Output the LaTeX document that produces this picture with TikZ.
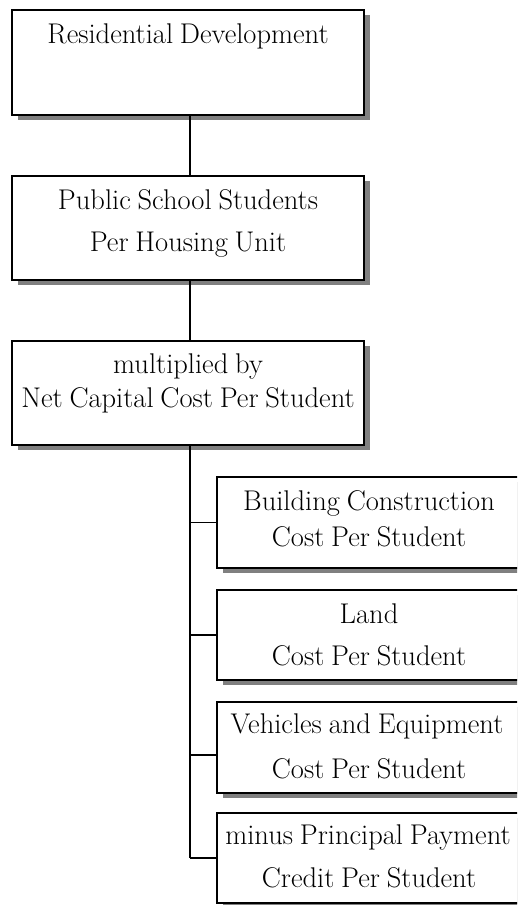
\documentclass[tikz,border=0pt]{standalone}
\usepackage{fontspec}
\usetikzlibrary{shadows}
\definecolor{shadowgray}{RGB}{128,128,128}
\newcommand{\boxfont}{\fontsize{28.5}{34}\selectfont\spaceskip=0.24em plus 0.1em minus 0.05em\relax}
\begin{document}
\begin{tikzpicture}[x=1pt,y=-1pt,
  box/.style={rectangle, draw=black, line width=1.6pt, fill=white, inner sep=0pt,
    drop shadow={shadow xshift=6pt, shadow yshift=-5pt, fill=shadowgray, opacity=1}},
  mainbox/.style={box, minimum width=352pt},
  subbox/.style={box, minimum width=304pt},
  lbl/.style={anchor=base, inner sep=0pt, font=\boxfont},
  conn/.style={draw=black, line width=1.5pt}]
\useasboundingbox (0,0) rectangle (517,905);
\clip (0,0) rectangle (517,905);

% main chain
\node[mainbox, minimum height=105pt] (b1) at (188,62.5) {};
\node[mainbox, minimum height=104pt] (b2) at (188,228) {};
\node[mainbox, minimum height=104pt] (b3) at (188,393) {};

% cost components
\node[subbox, minimum height=91pt] (cA) at (369,522.5) {};
\node[subbox, minimum height=90pt] (cB) at (369,635) {};
\node[subbox, minimum height=91pt] (cC) at (369,747.5) {};
\node[subbox, minimum height=90pt] (cD) at (369,858) {};

% labels
\node[lbl] (t1) at (188,43) {Residential Development};
\node[lbl] (t2a) at (188,209) {Public School Students};
\node[lbl] (t2b) at (188,251.5) {Per Housing Unit};
\node[lbl] (t3a) at (188,373) {multiplied by};
\node[lbl] (t3b) at (188,407) {Net Capital Cost Per Student};
\node[lbl] (tAa) at (369,510.5) {Building Construction};
\node[lbl] (tAb) at (369,546.5) {Cost Per Student};
\node[lbl] (tBa) at (369,623) {Land};
\node[lbl] (tBb) at (369,665.5) {Cost Per Student};
\node[lbl] (tCa) at (367,733) {Vehicles and Equipment};
\node[lbl] (tCb) at (369,778.5) {Cost Per Student};
\node[lbl] (tDa) at (368,844) {minus Principal Payment};
\node[lbl] (tDb) at (369,887.5) {Credit Per Student};

% connectors
\coordinate (tend) at (190,858);
\draw[conn] ([xshift=2pt]b1.south) -- ([xshift=2pt]b2.north);
\draw[conn] ([xshift=2pt]b2.south) -- ([xshift=2pt]b3.north);
\draw[conn] ([xshift=2pt]b3.south) -- (tend);
\draw[conn] (cA.west -| tend) -- (cA.west);
\draw[conn] (cB.west -| tend) -- (cB.west);
\draw[conn] ([yshift=-7.5pt]cC.west -| tend) -- ([yshift=-7.5pt]cC.west);
\draw[conn] (tend) -- (cD.west);
\end{tikzpicture}
\end{document}
